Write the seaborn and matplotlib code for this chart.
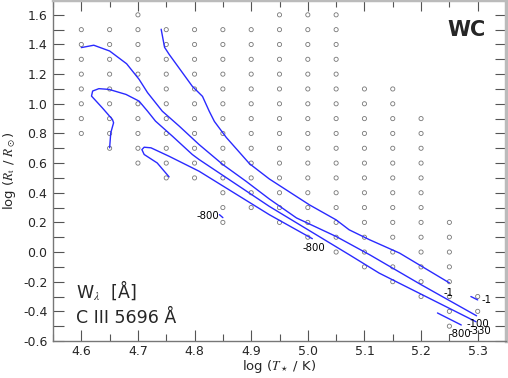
import numpy as np
import pandas as pd
import seaborn as sns
import matplotlib
matplotlib.use('Agg')
import matplotlib.pyplot as plt
from matplotlib.ticker import MultipleLocator, FormatStrFormatter

# model grid: one column per log T, from r_top down to r_bot in steps of 0.1
t_cols = [4.60, 4.65, 4.70, 4.75, 4.80, 4.85, 4.90, 4.95, 5.00, 5.05,
          5.10, 5.15, 5.20, 5.25, 5.30]
r_top = [1.5, 1.5, 1.6, 1.5, 1.5, 1.5, 1.5, 1.6, 1.6, 1.6,
         1.1, 1.1, 0.9, 0.2, -0.3]
r_bot = [0.8, 0.7, 0.6, 0.5, 0.5, 0.2, 0.3, 0.2, 0.1, 0.0,
         -0.1, -0.2, -0.3, -0.5, -0.4]

# contour lines
curve_a_t = [4.600, 4.622, 4.650, 4.680, 4.702, 4.717, 4.743, 4.773, 4.808,
             4.850, 4.891, 4.932, 4.980, 5.050, 5.110, 5.200, 5.298]
curve_a_r = [1.379, 1.395, 1.356, 1.270, 1.165, 1.075, 0.950, 0.849, 0.725,
             0.590, 0.477, 0.358, 0.230, 0.105, -0.020, -0.220, -0.430]

curve_b_t = [4.741, 4.747, 4.755, 4.796, 4.814, 4.826, 4.835, 4.856, 4.897,
             4.932, 5.003, 5.050, 5.073, 5.109, 5.162, 5.250]
curve_b_r = [1.503, 1.381, 1.334, 1.118, 1.050, 0.949, 0.881, 0.773, 0.596,
             0.493, 0.318, 0.217, 0.150, 0.083, -0.007, -0.208]

curve_c_t = [4.650, 4.652, 4.657, 4.655, 4.637, 4.618, 4.620, 4.631, 4.649,
             4.679, 4.702, 4.717, 4.731, 4.761, 4.796, 4.808, 4.932, 5.074,
             5.126, 5.297]
curve_c_r = [0.703, 0.804, 0.872, 0.894, 0.973, 1.052, 1.086, 1.102, 1.097,
             1.063, 1.018, 0.950, 0.883, 0.781, 0.658, 0.624, 0.308, -0.020,
             -0.142, -0.470]

curve_d_t = [4.755, 4.734, 4.711, 4.707, 4.711, 4.723, 4.755, 4.808, 4.932, 5.008]
curve_d_r = [0.507, 0.601, 0.658, 0.691, 0.707, 0.703, 0.646, 0.545, 0.252, 0.090]

seg_e_t = [4.844, 4.850]
seg_e_r = [0.252, 0.232]
seg_f_t = [5.288, 5.300]
seg_f_r = [-0.300, -0.323]
seg_g_t = [5.229, 5.271]
seg_g_r = [-0.411, -0.492]

# contour labels
lab_text = ['-800', '-800', '-1', '-1', '-100', '-800', '-330']
lab_t = [4.823, 5.011, 5.249, 5.316, 5.300, 5.268, 5.304]
lab_r = [0.240, 0.027, -0.275, -0.326, -0.485, -0.553, -0.532]

rows = []
for t, hi, lo in zip(t_cols, r_top, r_bot):
    n = int(round((hi - lo) / 0.1)) + 1
    for k in range(n):
        rows.append((t, round(hi - 0.1 * k, 2)))
grid = pd.DataFrame(rows, columns=['logT', 'logR'])

curves = [(curve_a_t, curve_a_r), (curve_b_t, curve_b_r), (curve_c_t, curve_c_r),
          (curve_d_t, curve_d_r), (seg_e_t, seg_e_r), (seg_f_t, seg_f_r),
          (seg_g_t, seg_g_r)]

sns.set_theme(style='ticks')
plt.rcParams['font.family'] = ['DejaVu Sans']
plt.rcParams['mathtext.fontset'] = 'stix'
plt.rcParams['axes.unicode_minus'] = False

fig = plt.figure(figsize=(5.08, 3.78), dpi=100)
ax = fig.add_axes([53/508, 37/378, 453/508, 341/378])

sns.scatterplot(data=grid, x='logT', y='logR', ax=ax, marker='o', s=9,
                facecolor='none', edgecolor='#777777', linewidth=0.6, zorder=2)

for ct, cr in curves:
    df = pd.DataFrame({'logT': ct, 'logR': cr})
    sns.lineplot(data=df, x='logT', y='logR', ax=ax, sort=False, estimator=None,
                 color='#2a2aff', linewidth=1.0, zorder=3)

for txt, t, r in zip(lab_text, lab_t, lab_r):
    ax.text(t, r, txt, fontsize=7.3, ha='center', va='center', color='black', zorder=4)

ax.text(4.591, -0.31, r'W$_\lambda$  [Å]', fontsize=12.5, ha='left', va='baseline')
ax.text(4.591, -0.478, 'C III 5696 Å', fontsize=12.5, ha='left', va='baseline')
ax.text(5.28, 1.455, 'WC', fontsize=15, fontweight='bold', ha='center', va='baseline')

ax.set_xlim(4.55, 5.35)
ax.set_ylim(-0.6, 1.7)
ax.xaxis.set_major_locator(MultipleLocator(0.1))
ax.xaxis.set_minor_locator(MultipleLocator(0.05))
ax.yaxis.set_major_locator(MultipleLocator(0.2))
ax.yaxis.set_minor_locator(MultipleLocator(0.1))
ax.xaxis.set_major_formatter(FormatStrFormatter('%.1f'))
ax.yaxis.set_major_formatter(FormatStrFormatter('%.1f'))

ax.tick_params(which='both', direction='in', top=True, right=True,
               color='#555555', labelsize=9, width=0.8)
ax.tick_params(axis='x', which='major', length=8, pad=3)
ax.tick_params(axis='x', which='minor', length=5)
ax.tick_params(axis='y', which='both', length=8, pad=4)

for side in ['left', 'bottom']:
    ax.spines[side].set_color('#777777')
    ax.spines[side].set_linewidth(1.0)
for side in ['top', 'right']:
    ax.spines[side].set_color('#bbbbbb')
    ax.spines[side].set_linewidth(2.5)

ax.set_xlabel(r'log ($T_\star$ / K)', fontsize=9.5, labelpad=0)
ax.set_ylabel(r'log ($R_{\rm t}$ / $R_\odot$)', fontsize=9.5, labelpad=4)

fig.savefig('out.png', dpi=100)
